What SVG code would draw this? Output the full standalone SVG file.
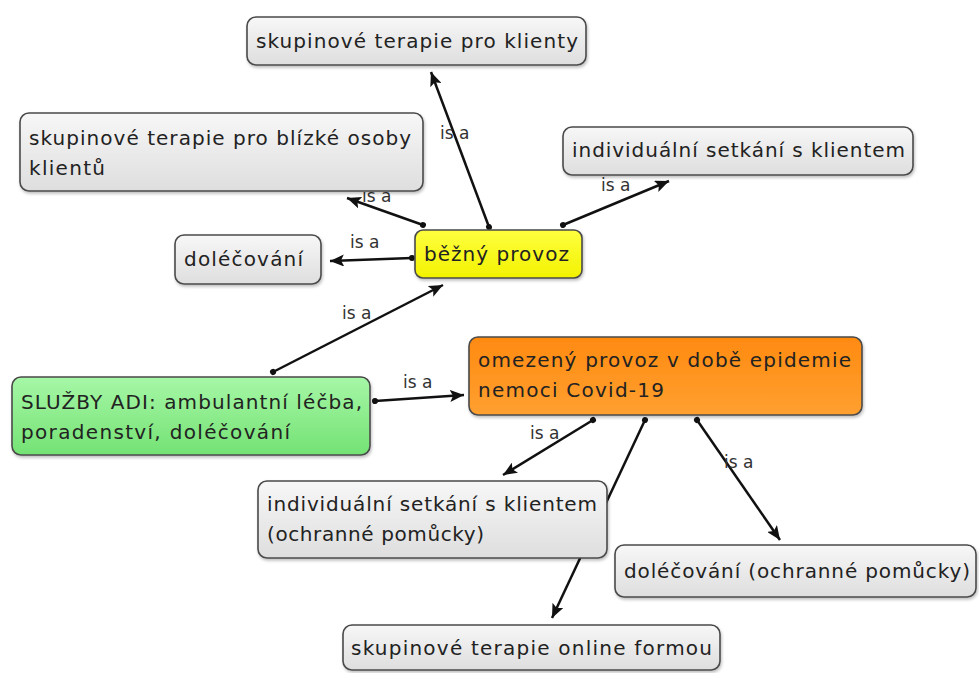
<svg xmlns="http://www.w3.org/2000/svg" width="979" height="673" viewBox="0 0 979 673">
<defs>
<linearGradient id="gGray" x1="0" y1="0" x2="0" y2="1"><stop offset="0" stop-color="#f7f7f7"/><stop offset="1" stop-color="#dedede"/></linearGradient>
<linearGradient id="gYellow" x1="0" y1="0" x2="0" y2="1"><stop offset="0" stop-color="#ffff40"/><stop offset="1" stop-color="#f2f200"/></linearGradient>
<linearGradient id="gOrange" x1="0" y1="0" x2="0" y2="1"><stop offset="0" stop-color="#ff8a10"/><stop offset="1" stop-color="#ffa030"/></linearGradient>
<linearGradient id="gGreen" x1="0" y1="0" x2="0" y2="1"><stop offset="0" stop-color="#a6f7a6"/><stop offset="1" stop-color="#74e274"/></linearGradient>
<marker id="arrow" markerUnits="userSpaceOnUse" markerWidth="16" markerHeight="12" refX="14" refY="6" orient="auto"><path d="M0,0 L14,6 L0,12 L3,6 Z" fill="#111"/></marker>
<marker id="dot" markerUnits="userSpaceOnUse" markerWidth="8" markerHeight="8" refX="4" refY="4" orient="auto"><circle cx="4" cy="4" r="3" fill="#111"/></marker>
<filter id="sh" x="-5%" y="-10%" width="110%" height="130%"><feDropShadow dx="1" dy="2" stdDeviation="1.5" flood-color="#000" flood-opacity="0.25"/></filter>
</defs>
<style>
.n rect{stroke:#4a4a4a;stroke-width:1.6;filter:url(#sh)}
.gray{fill:url(#gGray)}
.t{font-family:"DejaVu Sans","Liberation Sans",sans-serif;font-size:20px;fill:#222}
.c line{stroke:#111;stroke-width:2.5;marker-start:url(#dot);marker-end:url(#arrow)}
.l{font-family:"DejaVu Sans","Liberation Sans",sans-serif;font-size:17px;fill:#333}
</style>
<g id="connectors" class="c">
<line x1="489" y1="227" x2="431" y2="72"/>
<line x1="423" y1="225" x2="347" y2="198"/>
<line x1="412" y1="258" x2="330" y2="261"/>
<line x1="563" y1="225" x2="669" y2="181"/>
<line x1="273" y1="372" x2="443" y2="285"/>
<line x1="375" y1="401" x2="464" y2="395"/>
<line x1="593" y1="420" x2="503" y2="475"/>
<line x1="645" y1="420" x2="552" y2="618"/>
<line x1="697" y1="420" x2="780" y2="540"/>
<text class="l" x="440" y="139">is a</text>
<text class="l" x="362" y="202">is a</text>
<text class="l" x="350" y="248">is a</text>
<text class="l" x="601" y="191">is a</text>
<text class="l" x="342" y="319">is a</text>
<text class="l" x="403" y="388">is a</text>
<text class="l" x="530" y="439">is a</text>
<text class="l" x="724" y="468">is a</text>
</g>
<g id="n1" class="n"><rect class="gray" x="247" y="17" width="339" height="48" rx="9"/><text class="t" x="256" y="48" textLength="322">skupinové terapie pro klienty</text></g>
<g id="n2" class="n"><rect class="gray" x="20" y="113" width="403" height="78" rx="9"/><text class="t" x="29" y="145" textLength="382">skupinové terapie pro blízké osoby</text><text class="t" x="29" y="175" textLength="76">klientů</text></g>
<g id="n3" class="n"><rect class="gray" x="563" y="127" width="350" height="48" rx="9"/><text class="t" x="572" y="157" textLength="333">individuální setkání s klientem</text></g>
<g id="n4" class="n"><rect class="gray" x="175" y="235" width="146" height="49" rx="9"/><text class="t" x="184" y="266" textLength="119">doléčování</text></g>
<g id="n5" class="n"><rect fill="url(#gYellow)" x="415" y="230" width="167" height="48" rx="8"/><text class="t" x="424" y="261" textLength="145">běžný provoz</text></g>
<g id="n6" class="n"><rect fill="url(#gGreen)" x="12" y="377" width="358" height="78" rx="9"/><text class="t" x="21" y="409" textLength="341">SLUŽBY ADI: ambulantní léčba,</text><text class="t" x="21" y="439" textLength="269">poradenství, doléčování</text></g>
<g id="n7" class="n"><rect fill="url(#gOrange)" x="469" y="337" width="393" height="78" rx="9"/><text class="t" x="478" y="367" textLength="373">omezený provoz v době epidemie</text><text class="t" x="478" y="397" textLength="186">nemoci Covid-19</text></g>
<g id="n8" class="n"><rect class="gray" x="258" y="481" width="349" height="77" rx="9"/><text class="t" x="267" y="511" textLength="330">individuální setkání s klientem</text><text class="t" x="267" y="541" textLength="217">(ochranné pomůcky)</text></g>
<g id="n9" class="n"><rect class="gray" x="615" y="545" width="361" height="52" rx="9"/><text class="t" x="624" y="578" textLength="346">doléčování (ochranné pomůcky)</text></g>
<g id="n10" class="n"><rect class="gray" x="343" y="625" width="377" height="45" rx="9"/><text class="t" x="351" y="655" textLength="361">skupinové terapie online formou</text></g>
</svg>
